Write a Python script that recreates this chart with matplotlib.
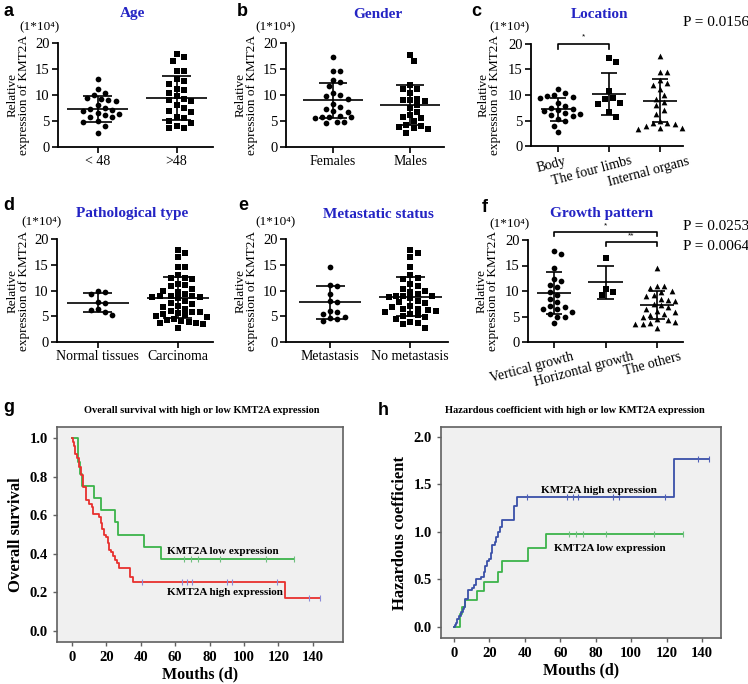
import numpy as np
import matplotlib
matplotlib.use("Agg")
import matplotlib.pyplot as plt
from matplotlib.transforms import ScaledTranslation

W, H = 748, 684
SERIF = ['Liberation Serif', 'DejaVu Serif']
SANS = ['Liberation Sans', 'DejaVu Sans']
TITLE_BLUE = '#2424c4'

# ---------------- scatter panels (values x 10^4) ----------------
age_labels = ['< 48', '>48']
age_young = [13.0, 11.2, 10.3, 10.0, 9.4, 9.2, 9.1, 8.8, 8.0, 7.5, 7.4, 7.2,
             6.9, 6.5, 6.3, 6.1, 5.8, 5.7, 5.0, 4.9, 4.0, 2.7]
age_old = [17.8, 17.3, 16.6, 14.6, 14.6, 13.0, 12.6, 12.2, 11.2, 10.9, 10.3,
           9.8, 9.2, 9.0, 8.8, 8.0, 7.5, 7.0, 6.8, 5.8, 5.6, 5.0, 4.7, 4.0,
           3.7, 3.6]
age_mean = [7.4, 9.4]
age_sd = [2.5, 4.2]

gender_labels = ['Females', 'Males']
gender_f = [17.3, 14.6, 14.6, 12.8, 12.5, 11.7, 10.3, 10.0, 9.8, 9.3, 8.3,
            7.7, 7.3, 7.0, 6.8, 6.0, 5.8, 5.8, 5.7, 5.5, 4.9, 4.8, 4.7]
gender_m = [17.7, 16.5, 12.0, 11.1, 11.1, 10.3, 9.3, 9.0, 9.0, 8.8, 8.0, 7.5,
            6.7, 6.2, 5.8, 5.5, 5.0, 4.3, 4.0, 3.9, 3.7, 3.5, 2.7]
gender_mean = [9.0, 8.0]
gender_sd = [3.4, 3.85]

loc_labels = ['Body', 'The four limbs', 'Internal organs']
loc_body = [11.1, 10.3, 10.0, 9.9, 9.6, 9.4, 8.5, 7.8, 7.5, 7.3, 7.0, 6.8,
            6.5, 6.3, 6.0, 5.8, 5.2, 5.0, 4.0, 2.7]
loc_limbs = [17.2, 16.5, 10.7, 9.5, 9.3, 8.5, 8.3, 6.6, 5.6]
loc_organs = [17.6, 14.6, 14.6, 13.0, 12.4, 12.0, 11.2, 10.0, 9.3, 8.6, 8.0,
              7.0, 6.3, 5.0, 4.6, 4.6, 4.4, 4.0, 3.6, 3.5, 3.4]
loc_mean = [7.2, 10.2, 8.9]
loc_sd = [2.3, 4.1, 4.25]

path_labels = ['Normal tissues', 'Carcinoma']
path_normal = [10.0, 9.8, 9.3, 7.8, 7.5, 6.5, 6.3, 5.8, 5.3]
path_carc = [17.8, 17.3, 16.5, 14.6, 14.6, 13.0, 12.5, 12.5, 12.2, 11.2, 11.0,
             10.8, 10.3, 10.0, 9.8, 9.3, 9.0, 9.0, 8.9, 8.8, 8.7, 8.5, 8.0,
             7.6, 7.3, 7.0, 6.8, 6.5, 6.0, 5.8, 5.8, 5.6, 5.5, 5.2, 5.0, 4.8,
             4.5, 4.2, 4.0, 3.9, 3.7, 3.6, 3.5, 2.7]
path_mean = [7.6, 8.6]
path_sd = [1.85, 3.95]

meta_labels = ['Metastasis', 'No metastasis']
meta_yes = [14.5, 11.0, 10.9, 9.3, 8.0, 7.8, 6.0, 5.8, 5.5, 4.8, 4.6, 4.5, 4.0]
meta_no = [17.8, 17.3, 16.5, 14.6, 13.0, 12.5, 12.3, 11.2, 10.8, 10.3, 10.0,
           9.8, 9.3, 9.0, 9.0, 9.0, 8.8, 8.5, 8.0, 7.8, 7.5, 7.0, 6.8, 6.5,
           6.5, 6.3, 6.0, 5.8, 5.5, 5.2, 5.0, 4.8, 4.5, 3.9, 3.7, 3.5, 2.7]
meta_mean = [7.7, 8.8]
meta_sd = [3.25, 3.75]

growth_labels = ['Vertical growth', 'Horizontal growth', 'The others']
growth_vert = [17.8, 17.3, 14.6, 12.3, 12.0, 11.2, 10.8, 9.8, 9.3, 8.5, 7.8,
               7.0, 6.8, 6.5, 6.5, 5.8, 5.5, 5.0, 4.9, 3.8]
growth_hor = [16.5, 10.3, 9.8, 9.2]
growth_other = [14.5, 11.0, 11.0, 10.5, 10.0, 9.8, 9.2, 9.0, 8.5, 8.2, 8.0,
                7.5, 7.2, 6.8, 6.5, 6.0, 5.8, 5.5, 5.2, 5.0, 4.5, 4.3, 4.0,
                3.8, 3.6, 3.5, 2.7]
growth_mean = [9.6, 11.7, 7.2]
growth_sd = [4.2, 3.25, 2.75]

p_location = 'P = 0.0156'
p_growth = ['P = 0.0253', 'P = 0.0064']

# ---------------- Kaplan-Meier (months) ----------------
low_times = [0, 3.3, 4.5, 6, 13, 17, 25, 27, 42, 52]
low_surv = [1.0, 0.875, 0.8125, 0.75, 0.6875, 0.625, 0.5625, 0.5, 0.4375, 0.375]
low_end = 129
low_censor = [65, 69, 73, 86, 113, 129]

high_times = [0, 0.5, 1, 2, 3, 4, 5, 5.5, 6.5, 8, 10, 11.5, 12.5, 15.5, 17,
              17.7, 18.5, 19.7, 20.7, 21.4, 22.9, 24, 24.8, 26, 27.3, 33.8,
              35.5, 124]
high_surv = [1.0, 0.979, 0.957, 0.915, 0.894, 0.851, 0.83, 0.809, 0.745, 0.68,
             0.66, 0.64, 0.605, 0.59, 0.56, 0.527, 0.497, 0.487, 0.458, 0.42,
             0.407, 0.387, 0.368, 0.35, 0.326, 0.281, 0.255, 0.17]
high_end = 144
high_censor = [41, 64, 67, 70, 90, 93, 119, 138, 144]


def px_axes(fig, left, top, right, bottom):
    return fig.add_axes([left / W, 1 - bottom / H, (right - left) / W,
                         (bottom - top) / H])


def ftext(fig, x, y, s, **kw):
    return fig.text(x / W, 1 - y / H, s, **kw)


def swarm(ax, xc, vals, diam):
    # greedy beeswarm in pixel space
    order = np.argsort(vals)[::-1]
    pix = ax.transData.transform(np.column_stack([np.full(len(vals), xc),
                                                  vals]))
    placed = []
    out = np.zeros(len(vals))
    for i in order:
        py = pix[i, 1]
        for k in range(0, 40):
            dx = ((k + 1) // 2) * diam * 0.55 * (1 if k % 2 else -1)
            ok = all((dx - qx) ** 2 + (py - qy) ** 2 >= diam ** 2
                     for qx, qy in placed)
            if ok:
                break
        placed.append((dx, py))
        out[i] = dx
    x0 = ax.transData.transform((xc, 0))[0]
    return [ax.transData.inverted().transform((x0 + d, 0))[0] for d in out]


def scatter_panel(fig, box, xlim, groups, markers, means, sds, labels,
                  mean_hw, cap_hw, rot=0, shifts=None):
    ax = px_axes(fig, *box)
    ax.set_xlim(*xlim)
    ax.set_ylim(0, 20)
    for sp in ['top', 'right']:
        ax.spines[sp].set_visible(False)
    for sp in ['left', 'bottom']:
        ax.spines[sp].set_linewidth(1.3)
    ax.set_yticks([0, 5, 10, 15, 20])
    ax.set_xticks(range(len(groups)))
    ax.tick_params(axis='both', direction='out', length=4, width=1.2, pad=2)
    for t in ax.get_yticklabels():
        t.set_fontfamily(SERIF)
        t.set_fontsize(10.5)
    ax.set_xticklabels(labels, family=SERIF, fontsize=10, rotation=rot,
                       ha='center')
    if shifts is not None:
        for t, dx in zip(ax.get_xticklabels(), shifts):
            t.set_transform(t.get_transform() +
                            ScaledTranslation(dx / 100, 0, fig.dpi_scale_trans))
    for i, vals in enumerate(groups):
        xs = swarm(ax, i, vals, 6.6)
        ax.scatter(xs, vals, marker=markers[i], s=17, c='black',
                   linewidths=0, zorder=3, clip_on=False)
        m, s = means[i], sds[i]
        ax.hlines(m, i - mean_hw, i + mean_hw, color='black', lw=1.2, zorder=2)
        ax.vlines(i, m - s, m + s, color='black', lw=1.2, zorder=2)
        ax.hlines([m - s, m + s], i - cap_hw, i + cap_hw, color='black',
                  lw=1.2, zorder=2)
    return ax


def bracket(ax, x0, x1, y, leg, stars, star_y):
    ax.plot([x0, x0, x1, x1], [y - leg, y, y, y - leg], color='black',
            lw=1.2, clip_on=False)
    ax.text((x0 + x1) / 2, star_y, stars, ha='center', va='center',
            fontsize=6, family=SANS)


fig = plt.figure(figsize=(W / 100, H / 100), dpi=100)

ylab = "Relative\nexpression of KMT2A"

# row 1
scatter_panel(fig, (58, 43, 213, 147), (-0.5, 1.46), [age_young, age_old],
              ['o', 's'], age_mean, age_sd, age_labels, 0.39, 0.18)
scatter_panel(fig, (286, 43, 444, 147), (-0.61, 1.44), [gender_f, gender_m],
              ['o', 's'], gender_mean, gender_sd, gender_labels, 0.39, 0.18)
axc = scatter_panel(fig, (531, 44, 683, 146), (-0.53, 2.45),
                    [loc_body, loc_limbs, loc_organs], ['o', 's', '^'],
                    loc_mean, loc_sd, loc_labels, 0.33, 0.16, rot=15,
                    shifts=[-7, -17, -11])
bracket(axc, 0, 1, 20, 1.0, '*', 21.3)

# row 2
scatter_panel(fig, (57, 239, 213, 342), (-0.51, 1.44), [path_normal, path_carc],
              ['o', 's'], path_mean, path_sd, path_labels, 0.39, 0.18)
scatter_panel(fig, (286, 239, 448, 342), (-0.55, 1.47), [meta_yes, meta_no],
              ['o', 's'], meta_mean, meta_sd, meta_labels, 0.39, 0.18)
axf = scatter_panel(fig, (528, 240, 683, 342), (-0.5, 2.5),
                    [growth_vert, growth_hor, growth_other], ['o', 's', '^'],
                    growth_mean, growth_sd, growth_labels, 0.33, 0.16, rot=15,
                    shifts=[-22, -22, -5])
bracket(axf, 0, 2, 21.6, 0.9, '*', 22.7)
bracket(axf, 1, 2, 19.7, 0.9, '**', 20.8)

# texts row 1 / row 2
for x, y, s in [(133, 13, 'Age'), (378, 15, 'Gender'), (600, 15, 'Location'),
                (132, 213, 'Pathological type'),
                (378, 214, 'Metastatic status'), (602, 213, 'Growth pattern')]:
    ftext(fig, x, y, s, ha='center', va='center', color=TITLE_BLUE,
          fontweight='bold', fontsize=11, family=SERIF)
for x, y in [(40, 27), (276, 27), (510, 27), (41, 222), (276, 222), (509, 224)]:
    ftext(fig, x, y, '(1*10\u2074)', ha='center', va='center', fontsize=9.5,
          family=SERIF)
for x, y in [(18, 95), (246, 95), (489, 95), (18, 291), (246, 291), (487, 291)]:
    ftext(fig, x, y, ylab, ha='center', va='center', rotation=90,
          fontsize=9.5, family=SERIF, linespacing=0.9)
for x, y, s in [(9, 12, 'a'), (242, 12, 'b'), (476, 12, 'c'), (9, 206, 'd'),
                (243, 206, 'e'), (485, 208, 'f'), (9, 408, 'g'), (383, 410, 'h')]:
    ftext(fig, x, y, s, ha='center', va='center', fontweight='bold',
          fontsize=13, family=SANS)
ftext(fig, 683, 23, p_location, ha='left', va='center', fontsize=11,
      family=SERIF)
ftext(fig, 683, 227, p_growth[0], ha='left', va='center', fontsize=11,
      family=SERIF)
ftext(fig, 683, 246, p_growth[1], ha='left', va='center', fontsize=11,
      family=SERIF)

# ---------------- survival / hazard ----------------
lt, ls = np.array(low_times), np.array(low_surv)
ht, hs = np.array(high_times), np.array(high_surv)


def at(times, vals, t):
    return vals[np.searchsorted(times, t, side='right') - 1]


def km_axes(box, xlim, ylim, yticks, ylabel, title, tx):
    ax = px_axes(fig, *box)
    ax.set_facecolor('#f0f0f0')
    ax.set_xlim(*xlim)
    ax.set_ylim(*ylim)
    ax.set_xticks(range(0, 141, 20))
    ax.set_yticks(yticks)
    for sp in ax.spines.values():
        sp.set_color('#606060')
        sp.set_linewidth(1.2)
    ax.tick_params(direction='out', length=3, width=1, color='#606060')
    for t in ax.get_xticklabels() + ax.get_yticklabels():
        t.set_fontfamily(SERIF)
        t.set_fontweight('bold')
        t.set_fontsize(10.5)
    ax.set_xlabel('Mouths (d)', family=SERIF, fontweight='bold', fontsize=11.5,
                  labelpad=2)
    ax.set_ylabel(ylabel, family=SERIF, fontweight='bold', fontsize=12,
                  labelpad=4)
    ftext(fig, tx, 410, title, ha='center', va='center', family=SERIF,
          fontweight='bold', fontsize=7.5)
    return ax


def curve(ax, times, vals, end, censor, color, ccolor):
    x = np.append(times, end)
    y = np.append(vals, vals[-1])
    ax.step(x, y, where='post', color=color, lw=1.3)
    c = np.array(censor)
    ax.plot(c, at(times, vals, c), linestyle='none', marker='|', ms=4,
            mew=0.8, color=ccolor)


axg = km_axes((57, 427, 343, 642), (-8.7, 157.6), (-0.057, 1.057),
              np.arange(0, 1.01, 0.2), 'Overall survival',
              'Overall survival with high or low KMT2A expression', 202)
axg.set_yticklabels(['%.1f' % v for v in np.arange(0, 1.01, 0.2)],
                    family=SERIF, fontweight='bold', fontsize=10.5)
curve(axg, lt, ls, low_end, low_censor, '#3cb44a', '#6fbf80')
curve(axg, ht, hs, high_end, high_censor, '#e8302e', '#8a8ad8')
axg.text(55, 0.41, 'KMT2A low expression', family=SERIF, fontweight='bold',
         fontsize=8, va='center')
axg.text(55, 0.197, 'KMT2A high expression', family=SERIF, fontweight='bold',
         fontsize=8, va='center')

axh = km_axes((441, 427, 721, 638), (-7.3, 150.7), (-0.116, 2.105),
              np.arange(0, 2.01, 0.5), 'Hazardous coefficient',
              'Hazardous coefficient with high or low KMT2A expression', 575)
axh.set_yticklabels(['%.1f' % v for v in np.arange(0, 2.01, 0.5)],
                    family=SERIF, fontweight='bold', fontsize=10.5)
curve(axh, lt, -np.log(ls), low_end, low_censor, '#3cb44a', '#6fbf80')
curve(axh, ht, -np.log(hs), high_end, high_censor, '#3a50a8', '#5060b8')
axh.text(49, 1.44, 'KMT2A high expression', family=SERIF, fontweight='bold',
         fontsize=8, va='center')
axh.text(56.5, 0.83, 'KMT2A low expression', family=SERIF, fontweight='bold',
         fontsize=8, va='center')

fig.savefig('out.png', dpi=100)
